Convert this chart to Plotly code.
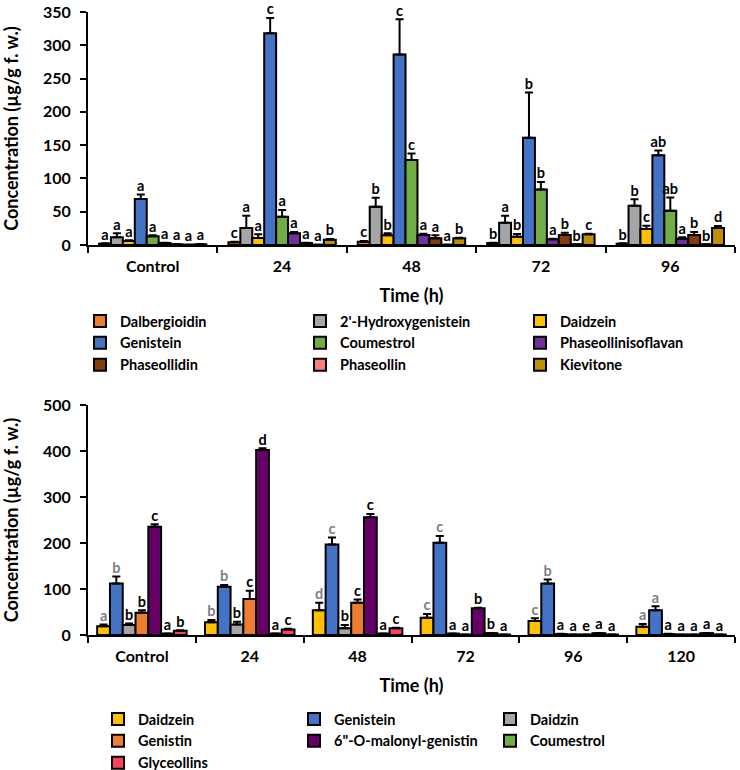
import plotly.graph_objects as go

FONT = "Lato"

# ---------------- Top chart data ----------------
top_categories = ["Control", "24", "48", "72", "96"]
top_series = ["Dalbergioidin", "2'-Hydroxygenistein", "Daidzein", "Genistein", "Coumestrol",
              "Phaseollinisoflavan", "Phaseollidin", "Phaseollin", "Kievitone"]
top_colors = ["#ED7D31", "#A5A5A5", "#FFC000", "#4472C4", "#70AD47",
              "#7030A0", "#843C0C", "#FF7C80", "#BF9000"]
dalbergioidin = [2, 4, 5, 3, 2]
hydroxygenistein = [11.5, 25.5, 57.5, 33.5, 59]
daidzein_top = [6, 10.5, 14.5, 12.5, 24]
genistein_top = [69, 318, 286, 161, 135]
coumestrol_top = [13, 42.5, 127.5, 83.5, 51.5]
phaseollinisoflavan = [3, 17.5, 15, 8.5, 9.5]
phaseollidin = [1, 3, 10, 15, 15]
phaseollin = [0.5, 0.5, 0.5, 1, 1]
kievitone = [1, 8, 10, 16, 25.5]
top_values = [dalbergioidin, hydroxygenistein, daidzein_top, genistein_top, coumestrol_top,
              phaseollinisoflavan, phaseollidin, phaseollin, kievitone]
top_errors = [
    [0.5, 1, 1, 0.5, 0.5],
    [6, 18.5, 13.5, 10.5, 9.6],
    [1, 5.5, 3, 4, 5],
    [7, 23, 53, 68, 7],
    [1.5, 10, 10, 11, 20],
    [0.5, 2, 2, 1, 2],
    [0.5, 0.5, 4.5, 3.5, 4.5],
    [0, 0, 0, 0, 0],
    [0.5, 1, 1, 1, 3],
]
top_letters = [
    ["a", "c", "c", "b", "b"],
    ["a", "a", "b", "a", "b"],
    ["a", "a", "b", "b", "c"],
    ["a", "c", "c", "b", "ab"],
    ["a", "a", "c", "b", "ab"],
    ["a", "a", "a", "a", "a"],
    ["a", "a", "a", "b", "b"],
    ["a", "a", "a", "b", "b"],
    ["a", "b", "b", "c", "d"],
]
top_letter_colors = ["#000000"] * 9

# ---------------- Bottom chart data ----------------
bot_categories = ["Control", "24", "48", "72", "96", "120"]
bot_series = ["Daidzein", "Genistein", "Daidzin", "Genistin", "6\"-O-malonyl-genistin",
              "Coumestrol", "Glyceollins"]
bot_colors = ["#FFC000", "#4472C4", "#A5A5A5", "#ED7D31", "#660066", "#70AD47", "#FF4060"]
daidzein_bot = [19, 27.5, 54, 37.5, 30.5, 18]
genistein_bot = [112, 105, 197, 200.5, 112, 54]
daidzin = [21.5, 23, 14.5, 3, 2, 2]
genistin = [48.5, 78, 70, 1, 1, 1]
malonyl_genistin = [235.5, 402, 256, 58, 1, 1]
coumestrol_bot = [3, 3, 3, 4, 4, 4]
glyceollins = [9, 12, 14.5, 1, 1, 1]
bot_values = [daidzein_bot, genistein_bot, daidzin, genistin, malonyl_genistin,
              coumestrol_bot, glyceollins]
bot_errors = [
    [4, 5, 16, 8, 6, 6],
    [15, 3.5, 15, 14.5, 8.5, 8.5],
    [3.5, 6, 7, 0.5, 0.5, 0.5],
    [5.5, 18, 7, 0, 0, 0],
    [5, 4, 7, 1, 0, 0],
    [0.5, 0.5, 0.5, 0.5, 0.5, 0.5],
    [1.5, 1.5, 1.5, 0, 0, 0],
]
bot_letters = [
    ["a", "b", "d", "c", "c", "a"],
    ["b", "b", "c", "c", "b", "a"],
    ["b", "b", "b", "a", "a", "a"],
    ["b", "c", "c", "a", "a", "a"],
    ["c", "d", "c", "b", "e", "a"],
    ["a", "a", "a", "b", "a", "a"],
    ["b", "c", "c", "a", "a", "a"],
]
bot_letter_colors = ["#7F7F7F", "#7F7F7F", "#000000", "#000000", "#000000", "#000000", "#000000"]

fig = go.Figure()


def add_group(cats, names, colors, values, errors, letters, lcolors, xa, ya, legend):
    for n, c, v, e in zip(names, colors, values, errors):
        fig.add_trace(go.Bar(
            x=cats, y=v, name=n, xaxis=xa, yaxis=ya, legend=legend,
            marker=dict(color=c, line=dict(color="black", width=2)),
            error_y=dict(type="data", array=e, arrayminus=[0] * len(e), symmetric=False,
                         color="black", thickness=2, width=4),
        ))
    for n, v, e, l, lc in zip(names, values, errors, letters, lcolors):
        fig.add_trace(go.Scatter(
            x=cats, y=[a + b for a, b in zip(v, e)], text=l, mode="text",
            textposition="top center", xaxis=xa, yaxis=ya, showlegend=False,
            textfont=dict(family=FONT, size=14.5, color=lc, weight="bold"),
            cliponaxis=False, hoverinfo="skip",
        ))


add_group(top_categories, top_series, top_colors, top_values, top_errors, top_letters,
          top_letter_colors, "x", "y", "legend")
add_group(bot_categories, bot_series, bot_colors, bot_values, bot_errors, bot_letters,
          bot_letter_colors, "x2", "y2", "legend2")

W, H = 740, 770


def px(x):
    return x / W


def py(y):
    return 1 - y / H


xdom = [px(88), px(735)]
axis_common = dict(showline=True, linecolor="black", linewidth=2, showgrid=False,
                   ticks="outside", ticklen=6, tickwidth=2, tickcolor="black",
                   tickfont=dict(family=FONT, size=16, color="black", weight="bold"),
                   zeroline=False, ticklabeloverflow="allow")
xaxis_common = dict(axis_common, type="category", tickson="boundaries", ticklabelstandoff=6)
yaxis_common = dict(axis_common, ticklabelstandoff=6)
title_font = dict(family=FONT, size=18, color="black", weight="bold")

fig.update_layout(
    width=W, height=H, margin=dict(l=0, r=0, t=0, b=0, autoexpand=False),
    paper_bgcolor="white", plot_bgcolor="white",
    barmode="group", bargap=0.17, bargroupgap=0,
    scattermode="group", scattergap=0.17,
    font=dict(family=FONT, color="black"),
    xaxis=dict(xaxis_common, domain=xdom, anchor="y",
               title=dict(text="Time (h)", standoff=15, font=title_font)),
    yaxis=dict(yaxis_common, domain=[py(245), py(12)], anchor="x",
               range=[0, 350], dtick=50,
               title=dict(text="Concentration (µg/g f. w.)", standoff=26, font=title_font)),
    xaxis2=dict(xaxis_common, domain=xdom, anchor="y2",
                title=dict(text="Time (h)", standoff=15, font=title_font)),
    yaxis2=dict(yaxis_common, domain=[py(635), py(405)], anchor="x2",
                range=[0, 500], dtick=100,
                title=dict(text="Concentration (µg/g f. w.)", standoff=26, font=title_font)),
    legend=dict(orientation="h", x=px(80), xanchor="left", y=py(305), yanchor="top",
                entrywidth=175, font=dict(family=FONT, size=14.5, weight="bold"),
                tracegroupgap=0, bgcolor="rgba(0,0,0,0)"),
    legend2=dict(orientation="h", x=px(98), xanchor="left", y=py(703), yanchor="top",
                 entrywidth=151, font=dict(family=FONT, size=14.5, weight="bold"),
                 tracegroupgap=0, bgcolor="rgba(0,0,0,0)"),
)

# Remove the default 8px page margin so the 740x770 figure fills the window exactly.
fig.write_html("out.html", config={"displayModeBar": False},
               post_script="document.body.style.margin='0px';")
